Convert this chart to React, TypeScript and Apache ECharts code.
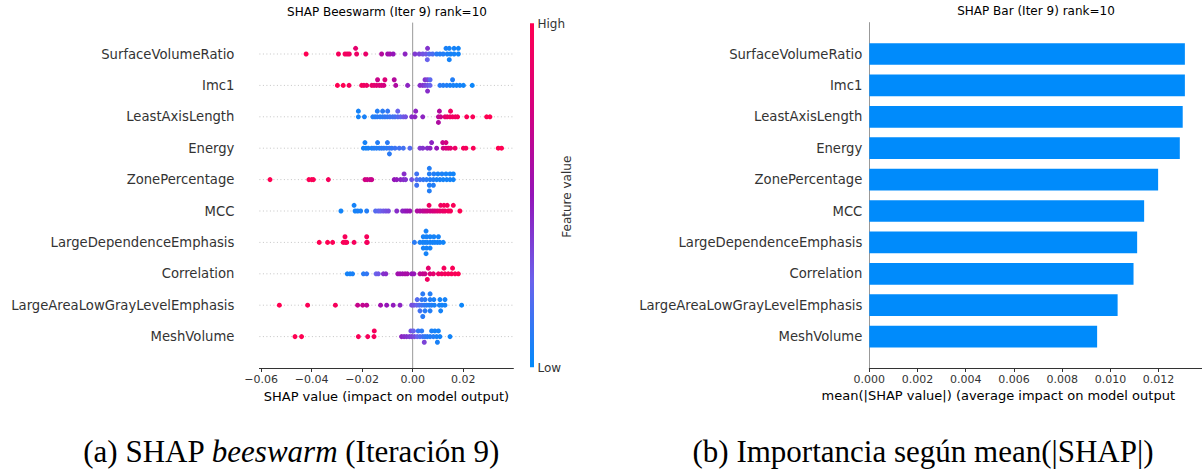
import { useEffect, useRef } from 'react';
import * as echarts from 'echarts';

// Features, top to bottom
const FEATURES = [
  'SurfaceVolumeRatio',
  'Imc1',
  'LeastAxisLength',
  'Energy',
  'ZonePercentage',
  'MCC',
  'LargeDependenceEmphasis',
  'Correlation',
  'LargeAreaLowGrayLevelEmphasis',
  'MeshVolume',
];

// mean(|SHAP|) per feature (same order)
const MEAN_ABS_SHAP = [0.01309, 0.01309, 0.013, 0.01288, 0.01198, 0.0114, 0.01111, 0.01096, 0.0103, 0.00945];

// Beeswarm points: [shap value, feature value (0 low .. 1 high), swarm layer]
const surfaceVolumeRatio = [
  [-0.0422, 1, 0], [-0.0294, 0.95, 0], [-0.0268, 0.95, 0], [-0.0259, 0.92, 0], [-0.0251, 0.92, 0],
  [-0.0222, 0.9, 0], [-0.0186, 0.88, 0], [-0.0123, 0.62, 0], [-0.0099, 0.55, 0], [-0.009, 0.55, 0],
  [-0.0077, 0.5, 0], [-0.003, 0.45, 0], [0.0009, 0.38, 0], [0.0026, 0.35, 0], [0.004, 0.3, 0],
  [0.0053, 0.28, 0], [0.0066, 0.2, 0], [0.0079, 0.18, 0], [0.0095, 0.1, 0], [0.0108, 0.08, 0],
  [0.0121, 0.08, 0], [0.0137, 0.06, 0], [0.015, 0.05, 0], [0.0164, 0.05, 0], [0.0181, 0.04, 0],
  [-0.0226, 0.85, 1], [0.0059, 0.4, 1], [0.0132, 0.06, 1], [0.0145, 0.05, 1], [0.0164, 0.05, 1],
  [0.0181, 0.04, 1], [0.0058, 0.25, -1], [0.0145, 0.05, -1],
];
const imc1 = [
  [-0.0298, 1, 0], [-0.0275, 1, 0], [-0.0252, 0.95, 0], [-0.0202, 0.95, 0], [-0.0193, 0.92, 0],
  [-0.0182, 0.9, 0], [-0.0162, 0.88, 0], [-0.0153, 0.85, 0], [-0.0143, 0.82, 0], [-0.0132, 0.8, 0],
  [-0.0123, 0.78, 0], [-0.0114, 0.75, 0], [-0.0067, 0.6, 0], [-0.002, 0.45, 0], [0.0029, 0.42, 0],
  [0.004, 0.4, 0], [0.0049, 0.35, 0], [0.0059, 0.3, 0], [0.0069, 0.25, 0], [0.0108, 0.1, 0],
  [0.0121, 0.08, 0], [0.0135, 0.08, 0], [0.0148, 0.06, 0], [0.0161, 0.06, 0], [0.0174, 0.05, 0],
  [0.0187, 0.05, 0], [0.0201, 0.04, 0], [0.0236, 0.03, 0],
  [-0.0139, 0.7, 1], [-0.011, 0.8, 1], [-0.0073, 0.62, 1], [0.0049, 0.4, 1], [0.0059, 0.35, 1],
  [0.0069, 0.22, 1], [0.0158, 0.08, 1], [0.0059, 0.42, -1],
];
const leastAxisLength = [
  [-0.0215, 0.05, 0], [-0.0191, 0.06, 0], [-0.0158, 0.08, 0], [-0.0149, 0.08, 0], [-0.014, 0.1, 0],
  [-0.0129, 0.1, 0], [-0.0119, 0.1, 0], [-0.011, 0.12, 0], [-0.01, 0.12, 0], [-0.009, 0.14, 0],
  [-0.0079, 0.15, 0], [-0.007, 0.16, 0], [-0.0059, 0.2, 0], [-0.0048, 0.22, 0], [-0.0037, 0.28, 0],
  [-0.0028, 0.3, 0], [-0.0004, 0.42, 0], [0.0009, 0.45, 0], [0.004, 0.45, 0], [0.0102, 0.65, 0],
  [0.0111, 0.7, 0], [0.0128, 0.85, 0], [0.0137, 0.88, 0], [0.0148, 0.9, 0], [0.0158, 0.92, 0],
  [0.0169, 0.92, 0], [0.0178, 0.95, 0], [0.0214, 0.97, 0], [0.0238, 0.97, 0], [0.0293, 1, 0], [0.0306, 1, 0],
  [-0.0215, 0.05, 1], [-0.014, 0.08, 1], [-0.0119, 0.1, 1], [-0.0099, 0.12, 1], [-0.0059, 0.25, 1],
  [0.0012, 0.45, 1], [0.0106, 0.62, 1], [0.015, 0.92, 1], [0.0102, 0.6, -1],
];
const energy = [
  [-0.0195, 0.05, 0], [-0.0185, 0.05, 0], [-0.0176, 0.06, 0], [-0.0162, 0.06, 0], [-0.0153, 0.08, 0],
  [-0.0143, 0.08, 0], [-0.0132, 0.08, 0], [-0.0123, 0.1, 0], [-0.0114, 0.1, 0], [-0.0103, 0.1, 0],
  [-0.0092, 0.12, 0], [-0.0083, 0.12, 0], [-0.007, 0.14, 0], [-0.0053, 0.15, 0], [-0.0037, 0.16, 0],
  [-0.0011, 0.2, 0], [0.0029, 0.38, 0], [0.004, 0.4, 0], [0.0058, 0.42, 0], [0.0069, 0.45, 0],
  [0.0095, 0.5, 0], [0.0121, 0.72, 0], [0.0132, 0.78, 0], [0.0141, 0.8, 0], [0.015, 0.85, 0],
  [0.0168, 0.9, 0], [0.0201, 0.95, 0], [0.0211, 0.95, 0], [0.024, 0.97, 0], [0.0339, 1, 0], [0.0352, 1, 0],
  [-0.0189, 0.05, 1], [-0.0139, 0.08, 1], [-0.01, 0.1, 1], [0.0075, 0.45, 1], [0.0119, 0.7, 1],
  [0.0132, 0.75, 1], [-0.0092, 0.1, -1],
];
const zonePercentage = [
  [-0.0565, 1, 0], [-0.0411, 0.98, 0], [-0.04, 0.98, 0], [-0.0393, 0.97, 0], [-0.0334, 0.95, 0],
  [-0.0189, 0.75, 0], [-0.018, 0.72, 0], [-0.0169, 0.7, 0], [-0.0162, 0.7, 0], [-0.0073, 0.5, 0],
  [-0.0063, 0.48, 0], [-0.0048, 0.45, 0], [-0.0037, 0.42, 0], [-0.0028, 0.4, 0], [-0.0004, 0.3, 0],
  [0.0016, 0.2, 0], [0.0029, 0.15, 0], [0.0042, 0.12, 0], [0.0055, 0.1, 0], [0.0069, 0.08, 0],
  [0.0082, 0.08, 0], [0.0095, 0.06, 0], [0.0108, 0.06, 0], [0.0121, 0.05, 0], [0.0135, 0.05, 0],
  [0.0148, 0.05, 0], [0.0161, 0.04, 0],
  [-0.0034, 0.42, 1], [0.0016, 0.15, 1], [0.0066, 0.08, 1], [0.0084, 0.08, 1], [0.01, 0.06, 1],
  [0.0116, 0.06, 1], [0.0132, 0.05, 1], [0.0148, 0.05, 1], [0.0161, 0.04, 1], [0.0066, 0.08, 2],
  [0.0016, 0.15, -1], [0.0066, 0.08, -1], [0.0082, 0.08, -1], [0.0066, 0.08, -2],
];
const mcc = [
  [-0.0284, 0.04, 0], [-0.0228, 0.05, 0], [-0.0218, 0.06, 0], [-0.0206, 0.06, 0], [-0.0182, 0.08, 0],
  [-0.0147, 0.2, 0], [-0.0136, 0.22, 0], [-0.0127, 0.25, 0], [-0.0116, 0.28, 0], [-0.0106, 0.3, 0],
  [-0.0096, 0.32, 0], [-0.0063, 0.42, 0], [-0.004, 0.45, 0], [-0.003, 0.48, 0], [-0.0021, 0.5, 0],
  [-0.0011, 0.52, 0], [0.0018, 0.6, 0], [0.0029, 0.62, 0], [0.004, 0.65, 0], [0.0049, 0.68, 0],
  [0.0058, 0.7, 0], [0.0069, 0.72, 0], [0.0079, 0.75, 0], [0.0088, 0.78, 0], [0.0098, 0.8, 0],
  [0.0108, 0.85, 0], [0.0119, 0.88, 0], [0.0128, 0.9, 0], [0.0141, 0.92, 0], [0.015, 0.95, 0], [0.0187, 1, 0],
  [-0.0232, 0.05, 1], [0.0065, 0.92, 1], [0.0111, 0.92, 1], [0.0124, 0.95, 1], [0.0137, 0.95, 1], [0.0161, 0.97, 1],
];
const largeDependenceEmphasis = [
  [-0.037, 1, 0], [-0.0337, 1, 0], [-0.0317, 0.98, 0], [-0.0275, 0.97, 0], [-0.0267, 0.97, 0],
  [-0.0261, 0.96, 0], [-0.0232, 0.95, 0], [-0.0182, 0.95, 0], [-0.018, 0.94, 0], [0.0007, 0.1, 0],
  [0.0029, 0.06, 0], [0.004, 0.05, 0], [0.0049, 0.05, 0], [0.0058, 0.05, 0], [0.0069, 0.05, 0],
  [0.0079, 0.05, 0], [0.0088, 0.05, 0], [0.0098, 0.05, 0], [0.0108, 0.05, 0], [0.0121, 0.04, 0],
  [-0.0268, 0.96, 1], [-0.0182, 0.95, 1], [0.0042, 0.05, 1], [0.0055, 0.05, 1], [0.0069, 0.05, 1],
  [0.0084, 0.05, 1], [0.0102, 0.05, 1], [0.0053, 0.05, 2],
  [0.0042, 0.05, -1], [0.0055, 0.05, -1], [0.0069, 0.05, -1], [0.0053, 0.05, -2],
];
const correlation = [
  [-0.0259, 0.05, 0], [-0.0248, 0.05, 0], [-0.0238, 0.06, 0], [-0.0195, 0.1, 0], [-0.0182, 0.12, 0],
  [-0.0145, 0.25, 0], [-0.0136, 0.28, 0], [-0.0116, 0.4, 0], [-0.0106, 0.42, 0], [-0.0059, 0.55, 0],
  [-0.005, 0.55, 0], [-0.004, 0.55, 0], [-0.003, 0.58, 0], [-0.0021, 0.58, 0], [-0.0004, 0.5, 0],
  [0.0005, 0.5, 0], [0.0029, 0.65, 0], [0.004, 0.68, 0], [0.0049, 0.7, 0], [0.0069, 0.8, 0],
  [0.0082, 0.85, 0], [0.0102, 0.9, 0], [0.0115, 0.92, 0], [0.0128, 0.95, 0], [0.0141, 0.95, 0],
  [0.0154, 0.97, 0], [0.0168, 0.97, 0], [0.0181, 1, 0],
  [0.0062, 0.85, 1], [0.0124, 0.95, 1], [0.0158, 0.97, 1], [0.0058, 0.92, -1],
];
const largeAreaLowGrayLevelEmphasis = [
  [-0.0528, 1, 0], [-0.0416, 0.98, 0], [-0.0306, 0.95, 0], [-0.0218, 0.7, 0], [-0.0198, 0.68, 0],
  [-0.0182, 0.66, 0], [-0.0127, 0.55, 0], [-0.0103, 0.5, 0], [-0.0077, 0.48, 0], [-0.005, 0.45, 0],
  [-0.0004, 0.32, 0], [0.0005, 0.3, 0], [0.0016, 0.25, 0], [0.0026, 0.2, 0], [0.0036, 0.15, 0],
  [0.0046, 0.12, 0], [0.0055, 0.1, 0], [0.0066, 0.08, 0], [0.0075, 0.08, 0], [0.0086, 0.06, 0],
  [0.0106, 0.06, 0], [0.0116, 0.05, 0], [0.0128, 0.05, 0], [0.0194, 0.03, 0],
  [0.0018, 0.2, 1], [0.0036, 0.12, 1], [0.0049, 0.1, 1], [0.0069, 0.08, 1], [0.0084, 0.06, 1],
  [0.0108, 0.05, 1], [0.0128, 0.05, 1], [0.004, 0.1, 2], [0.0069, 0.08, 2],
  [0.0029, 0.15, -1], [0.0049, 0.1, -1], [0.0069, 0.08, -1], [0.0111, 0.05, -1], [0.004, 0.1, -2],
];
const meshVolume = [
  [-0.0466, 1, 0], [-0.044, 1, 0], [-0.0215, 0.97, 0], [-0.0178, 0.95, 0], [-0.0153, 0.95, 0],
  [-0.0044, 0.45, 0], [-0.0034, 0.42, 0], [-0.0024, 0.4, 0], [-0.0013, 0.38, 0], [-0.0004, 0.35, 0],
  [0.0007, 0.32, 0], [0.0018, 0.25, 0], [0.0029, 0.2, 0], [0.004, 0.15, 0], [0.0049, 0.12, 0],
  [0.0058, 0.1, 0], [0.0069, 0.08, 0], [0.0082, 0.08, 0], [0.0095, 0.06, 0], [0.0108, 0.05, 0], [0.0148, 0.04, 0],
  [-0.0152, 0.95, 1], [-0.0007, 0.3, 1], [0.0003, 0.25, 1], [0.0022, 0.12, 1], [0.0036, 0.1, 1],
  [0.0075, 0.06, 1], [0.0088, 0.05, 1], [0.0102, 0.05, 1], [0.0046, 0.35, -1], [0.0098, 0.06, -1],
];

const SWARM_POINTS = [
  surfaceVolumeRatio, imc1, leastAxisLength, energy, zonePercentage,
  mcc, largeDependenceEmphasis, correlation, largeAreaLowGrayLevelEmphasis, meshVolume,
];

const BEE_MIN = -0.0607;
const BEE_MAX = 0.0399;
const BEE_TICKS = [-0.06, -0.04, -0.02, 0, 0.02];
const BAR_TICKS = [0, 0.002, 0.004, 0.006, 0.008, 0.01, 0.012];

const SANS = 'DejaVu Sans';
const SERIF = 'Liberation Serif';
const CMAP = ['#008bfb', '#6a62ec', '#9414b8', '#d4007f', '#ff0052'];

const fmt = (v: number, d: number) => (v < 0 ? '\u2212' : '') + Math.abs(v).toFixed(d);

const center = (x: number, y: number, text: string, size: number, fill = '#000', extra: any = {}) => ({
  type: 'text', x, y, ...extra,
  style: {
    text, fontFamily: SANS, fontSize: size, fill,
    textAlign: 'center', textVerticalAlign: 'middle', align: 'center', verticalAlign: 'middle',
  },
});

export default function App() {
  const ref = useRef<HTMLDivElement>(null);
  useEffect(() => {
    const chart = echarts.init(ref.current!, null, { renderer: 'svg' });
    const n = FEATURES.length;
    const swarmData: number[][] = [];
    SWARM_POINTS.forEach((pts, i) => {
      pts.forEach(([x, fv, layer]) => {
        swarmData.push([x, n - 1 - i + layer * 0.18, fv]);
      });
    });
    const barCats = ['', ...FEATURES.slice().reverse(), ''];
    const barVals = [null, ...MEAN_ABS_SHAP.slice().reverse(), null];

    const gridLines = FEATURES.map((_, i) => ({
      type: 'line', xAxisIndex: 0, yAxisIndex: 0, silent: true, symbol: 'none', z: 1,
      data: [[BEE_MIN, i], [BEE_MAX, i]],
      lineStyle: { color: '#c4c4c4', type: [1, 2.5], width: 1 },
    }));

    const option: any = {
      animation: false,
      backgroundColor: '#fff',
      textStyle: { fontFamily: SANS },
      grid: [
        { left: 259.4, top: 22.6, width: 254, height: 345.4, containLabel: false },
        { left: 869.3, top: 22.6, right: -3, height: 345.4, containLabel: false },
      ],
      xAxis: [
        {
          type: 'value', gridIndex: 0, min: BEE_MIN, max: BEE_MAX,
          axisLine: { show: true, onZero: false, lineStyle: { color: '#333', width: 1 } },
          axisTick: { show: true, length: 4, lineStyle: { color: '#333' }, customValues: BEE_TICKS },
          axisLabel: { color: '#333', fontSize: 11, margin: 6, customValues: BEE_TICKS, formatter: (v: number) => fmt(v, 2) },
          splitLine: { show: false },
        },
        {
          type: 'value', gridIndex: 1, min: 0, max: 0.0138,
          axisLine: { show: true, onZero: false, lineStyle: { color: '#333', width: 1 } },
          axisTick: { show: true, length: 4, lineStyle: { color: '#333' }, customValues: BAR_TICKS },
          axisLabel: { color: '#333', fontSize: 11, margin: 6, customValues: BAR_TICKS, formatter: (v: number) => fmt(v, 3) },
          splitLine: { show: false },
        },
      ],
      yAxis: [
        {
          type: 'value', gridIndex: 0, min: -1, max: 10,
          axisLine: { show: false, onZero: false }, axisTick: { show: false }, splitLine: { show: false },
          axisLabel: {
            color: '#333', fontSize: 13.2, margin: 25,
            customValues: FEATURES.map((_, i) => i),
            formatter: (v: number) => FEATURES[n - 1 - Math.round(v)],
          },
        },
        {
          type: 'category', gridIndex: 1, data: barCats, boundaryGap: false,
          axisLine: { show: true, onZero: false, lineStyle: { color: '#999', width: 1 } },
          axisTick: { show: false }, splitLine: { show: false },
          axisLabel: { color: '#333', fontSize: 13.2, margin: 7, interval: 0 },
        },
      ],
      visualMap: {
        type: 'continuous', show: false, seriesIndex: 0, dimension: 2, min: 0, max: 1,
        inRange: { color: CMAP },
      },
      series: [
        {
          type: 'scatter', xAxisIndex: 0, yAxisIndex: 0, data: swarmData,
          symbolSize: 5, z: 3, itemStyle: { opacity: 1 },
        },
        {
          type: 'bar', xAxisIndex: 1, yAxisIndex: 1, data: barVals,
          barWidth: 21.7, itemStyle: { color: '#008bfb' },
        },
        {
          type: 'line', xAxisIndex: 0, yAxisIndex: 0, silent: true, symbol: 'none', z: 2,
          data: [[0, -1], [0, 10]],
          lineStyle: { color: '#999999', width: 1 },
        },
        ...gridLines,
      ],
      graphic: [
        center(387, 12, 'SHAP Beeswarm (Iter 9) rank=10', 12),
        center(1036, 11, 'SHAP Bar (Iter 9) rank=10', 12),
        center(386.4, 396, 'SHAP value (impact on model output)', 13),
        {
          type: 'text', x: 1175, y: 395,
          style: {
            text: 'mean(|SHAP value|) (average impact on model output', fontFamily: SANS, fontSize: 13, fill: '#000',
            textAlign: 'right', textVerticalAlign: 'middle', align: 'right', verticalAlign: 'middle',
          },
        },
        {
          type: 'rect', shape: { x: 530, y: 23.3, width: 4, height: 344 },
          style: {
            fill: new echarts.graphic.LinearGradient(0, 0, 0, 1, [
              { offset: 0, color: CMAP[4] }, { offset: 0.25, color: CMAP[3] }, { offset: 0.5, color: CMAP[2] },
              { offset: 0.75, color: CMAP[1] }, { offset: 1, color: CMAP[0] },
            ]),
          },
        },
        {
          type: 'text', x: 537.5, y: 23.5,
          style: { text: 'High', fontFamily: SANS, fontSize: 12, fill: '#333', textAlign: 'left', textVerticalAlign: 'middle', align: 'left', verticalAlign: 'middle' },
        },
        {
          type: 'text', x: 537.5, y: 368,
          style: { text: 'Low', fontFamily: SANS, fontSize: 12, fill: '#333', textAlign: 'left', textVerticalAlign: 'middle', align: 'left', verticalAlign: 'middle' },
        },
        center(566.7, 196.7, 'Feature value', 12, '#333', { rotation: Math.PI / 2 }),
        {
          type: 'text', x: 291, y: 451,
          style: {
            text: '(a) SHAP {i|beeswarm} (Iteración 9)', fontFamily: SERIF, fontSize: 31, fill: '#000',
            textAlign: 'center', textVerticalAlign: 'middle', align: 'center', verticalAlign: 'middle',
            rich: { i: { fontFamily: SERIF, fontSize: 31, fontStyle: 'italic', fill: '#000' } },
          },
        },
        {
          type: 'text', x: 923, y: 451,
          style: {
            text: '(b) Importancia según mean(|SHAP|)', fontFamily: SERIF, fontSize: 31, fill: '#000',
            textAlign: 'center', textVerticalAlign: 'middle', align: 'center', verticalAlign: 'middle',
          },
        },
      ],
    };
    chart.setOption(option);
    return () => chart.dispose();
  }, []);
  return (
    <div
      ref={ref}
      style={{ position: 'fixed', left: 0, top: 0, width: 1202, height: 472, background: '#fff' }}
    />
  );
}
